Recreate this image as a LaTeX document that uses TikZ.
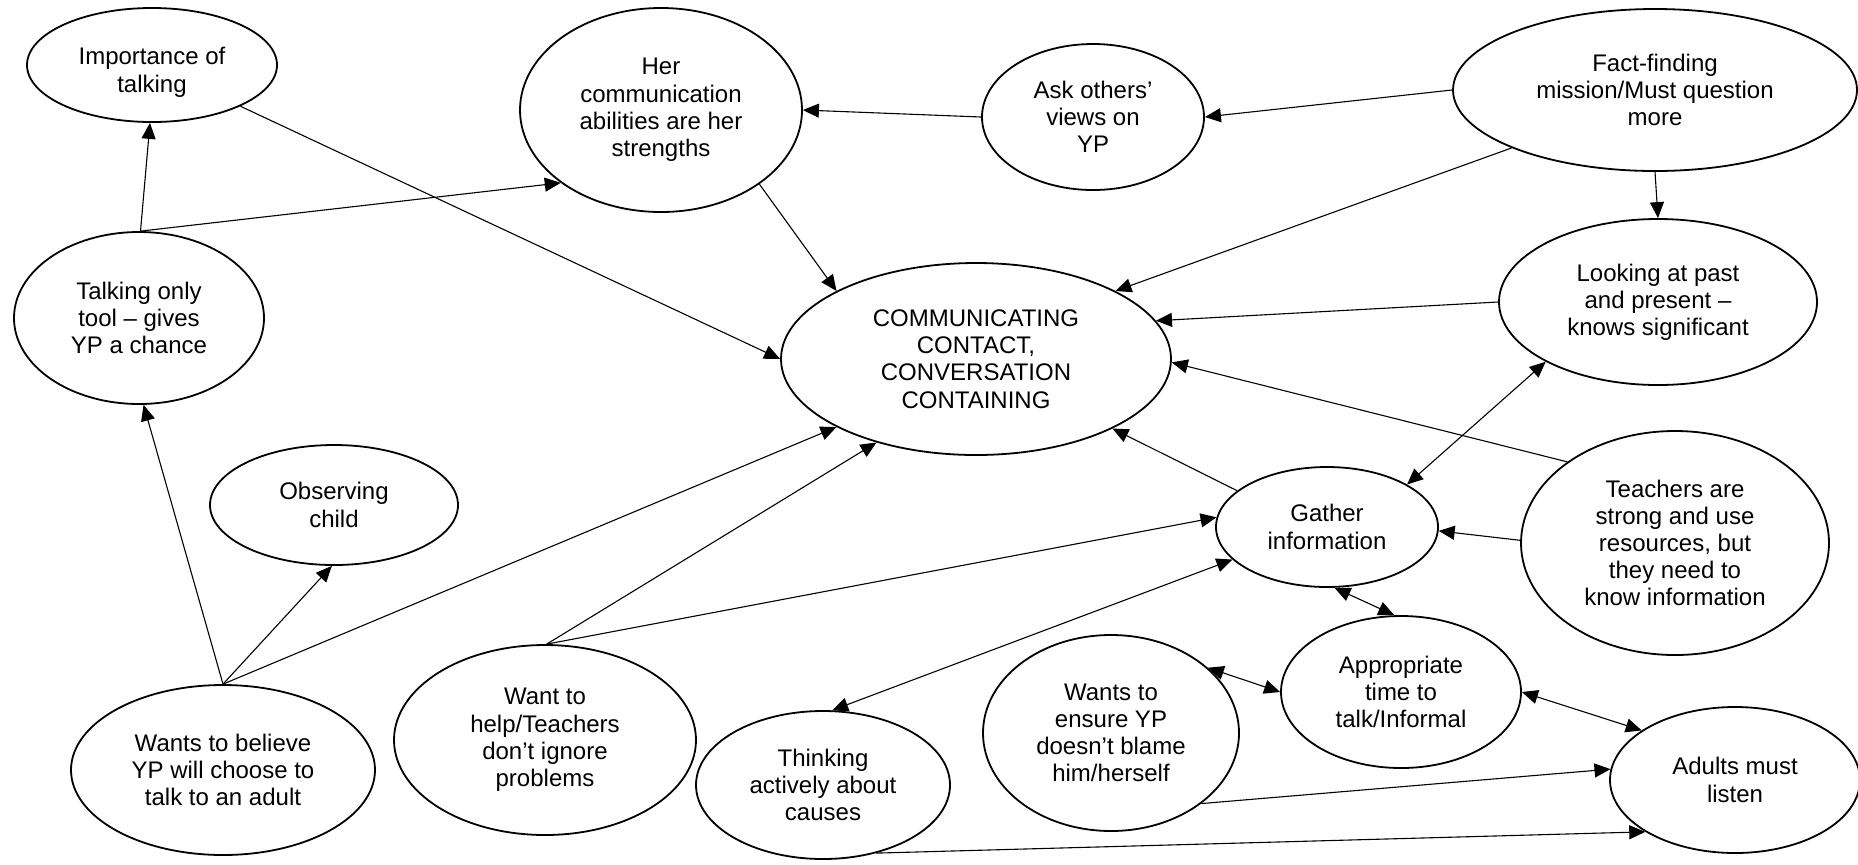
\documentclass[tikz,border=0pt]{standalone}
\usepackage{fontspec}
\setmainfont{Liberation Sans}
\usetikzlibrary{shapes.geometric,arrows.meta}
\begin{document}
\begin{tikzpicture}[x=0.5pt,y=-0.5pt,
  bub/.style 2 args={ellipse, draw, line width=0.9pt, inner sep=0pt, align=center,
    minimum width=#1*0.5pt, minimum height=#2*0.5pt,
    font=\fontsize{12}{13.6}\selectfont},
  link/.style={line width=0.55pt, -{Triangle[length=8pt,width=7pt]}},
  both/.style={line width=0.55pt, {Triangle[length=8pt,width=7pt]}-{Triangle[length=8pt,width=7pt]}}]
\useasboundingbox (0,0) rectangle (1858,864);

% concept bubbles (centre, then full axes in px)
\node[bub={250}{114}, text height=29.5pt] (imp) at (152,65)  {Importance of\\talking};
\node[bub={250}{172}] (talk)  at (139,318) {Talking only\\tool -- gives\\YP a chance};
\node[bub={282}{204}] (her)   at (661,110) {Her\\communication\\abilities are her\\strengths};
\node[bub={222}{146}] (ask)   at (1093,117) {Ask others’\\views on\\YP};
\node[bub={404}{162}] (fact)  at (1655,90) {Fact-finding\\mission/Must question\\more};
\node[bub={390}{192}] (cent)  at (976,359) {COMMUNICATING\\CONTACT,\\CONVERSATION\\CONTAINING};
\node[bub={318}{166}] (look)  at (1658,302) {Looking at past\\and present --\\knows significant};
\node[bub={248}{120}] (obs)   at (334,505) {Observing\\child};
\node[bub={222}{120}] (gath)  at (1327,527) {Gather\\information};
\node[bub={308}{224}] (teach) at (1675,543) {Teachers are\\strong and use\\resources, but\\they need to\\know information};
\node[bub={240}{152}] (appr)  at (1401,692) {Appropriate\\time to\\talk/Informal};
\node[bub={256}{196}] (ens)   at (1111,733) {Wants to\\ensure YP\\doesn’t blame\\him/herself};
\node[bub={250}{146}] (adl)   at (1735,780) {Adults must\\listen};
\node[bub={254}{148}] (think) at (823,785) {Thinking\\actively about\\causes};
\node[bub={302}{190}] (help)  at (545,740) {Want to\\help/Teachers\\don’t ignore\\problems};
\node[bub={304}{170}] (bel)   at (223,770) {Wants to believe\\YP will choose to\\talk to an adult};

% one-way links
\draw[link] (talk.89)  -- (imp.268);
\draw[link] (talk.89)  -- (her.216);
\draw[link] (imp.335)  -- (cent.180);
\draw[link] (her.323)  -- (cent.154);
\draw[link] (ask.180)  -- (her.0);
\draw[link] (fact.180) -- (ask.0);
\draw[link] (fact.202) -- (cent.26);
\draw[link] (fact.270) -- (look.90);
\draw[link] (look.180) -- (cent.12);
\draw[link] (teach.143) -- (cent.-1);
\draw[link] (gath.158) -- (cent.333);
\draw[link] (teach.179) -- (gath.358);
\draw[link] (help.89)  -- (cent.220);
\draw[link] (help.89)  -- (gath.175);
\draw[link] (bel.90)   -- (talk.273);
\draw[link] (bel.90)   -- (obs.268);
\draw[link] (bel.90)   -- (cent.206);
\draw[link] (ens.322)  -- (adl.175);
\draw[link] (think.308) -- (adl.210);

% two-way links
\draw[both] (look.208) -- (gath.28);
\draw[both] (gath.277) -- (appr.95);
\draw[both] (gath.199) -- (think.83);
\draw[both] (ens.34)   -- (appr.180);
\draw[both] (appr.0)   -- (adl.152);
\end{tikzpicture}
\end{document}
